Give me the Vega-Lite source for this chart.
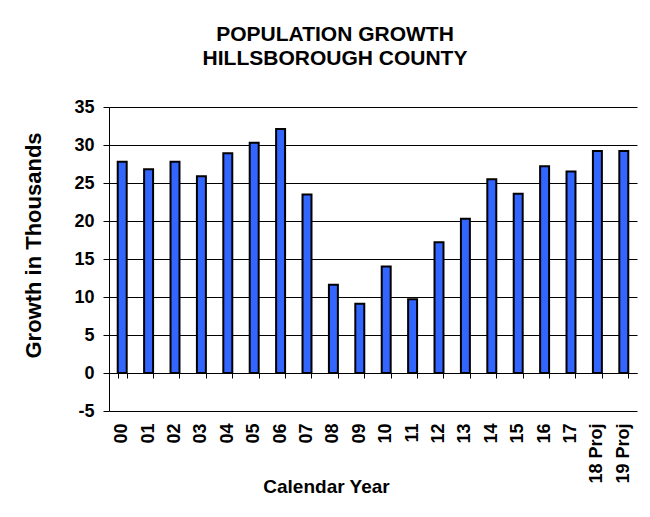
{
  "$schema": "https://vega.github.io/schema/vega-lite/v6.json",
  "width": 528,
  "height": 304,
  "padding": {"left": 22, "top": 24, "right": 13, "bottom": 5},
  "background": "white",
  "title": {
    "text": ["POPULATION GROWTH", "HILLSBOROUGH COUNTY"],
    "font": "Liberation Sans",
    "fontSize": 21,
    "fontWeight": "bold",
    "color": "black",
    "anchor": "middle",
    "lineHeight": 24,
    "offset": 29,
    "dx": -38
  },
  "data": {
    "values": [
      {"year": "00", "growth": 27.8},
      {"year": "01", "growth": 26.8},
      {"year": "02", "growth": 27.8},
      {"year": "03", "growth": 25.9},
      {"year": "04", "growth": 28.9},
      {"year": "05", "growth": 30.3},
      {"year": "06", "growth": 32.1},
      {"year": "07", "growth": 23.5},
      {"year": "08", "growth": 11.6},
      {"year": "09", "growth": 9.1},
      {"year": "10", "growth": 14.0},
      {"year": "11", "growth": 9.7},
      {"year": "12", "growth": 17.2},
      {"year": "13", "growth": 20.3},
      {"year": "14", "growth": 25.5},
      {"year": "15", "growth": 23.6},
      {"year": "16", "growth": 27.2},
      {"year": "17", "growth": 26.5},
      {"year": "18 Proj", "growth": 29.2},
      {"year": "19 Proj", "growth": 29.2}
    ]
  },
  "config": {
    "view": {"stroke": null},
    "axis": {
      "labelFont": "Liberation Sans",
      "titleFont": "Liberation Sans",
      "labelFontWeight": "bold",
      "titleFontWeight": "bold",
      "labelColor": "black",
      "titleColor": "black"
    }
  },
  "resolve": {"axis": {"x": "independent"}},
  "layer": [
    {
      "mark": {"type": "bar", "color": "#3366FF", "stroke": "black", "strokeWidth": 2},
      "encoding": {
        "x": {
          "field": "year",
          "type": "nominal",
          "sort": null,
          "scale": {"paddingInner": 0.66, "paddingOuter": 0.33},
          "title": "Calendar Year",
          "axis": {
            "labelAngle": -90,
            "labelFontSize": 18,
            "labelPadding": 12,
            "ticks": false,
            "domain": false,
            "grid": false,
            "titleFontSize": 19,
            "titleBaseline": "middle",
            "titleX": 217,
            "titleY": 75
          }
        },
        "y": {
          "field": "growth",
          "type": "quantitative",
          "scale": {"domain": [-5, 35], "nice": false, "zero": false},
          "title": "Growth in Thousands",
          "axis": {
            "values": [-5, 0, 5, 10, 15, 20, 25, 30, 35],
            "tickCount": 20,
            "labelExpr": "'' + datum.value",
            "labelOverlap": false,
            "labelFontSize": 18,
            "labelPadding": 9,
            "tickSize": 6,
            "tickColor": "black",
            "domainColor": "black",
            "domainWidth": 1,
            "grid": true,
            "gridColor": "black",
            "gridWidth": 1,
            "gridOpacity": 1,
            "titleFontSize": 22,
            "titlePadding": 28,
            "titleY": 138
          }
        }
      }
    },
    {
      "mark": {"type": "point", "opacity": 0},
      "encoding": {
        "x": {
          "field": "year",
          "type": "nominal",
          "sort": null,
          "axis": {
            "orient": "bottom",
            "offset": -38,
            "labels": false,
            "ticks": true,
            "tickBand": "extent",
            "tickSize": 5,
            "tickColor": "black",
            "domain": true,
            "domainColor": "black",
            "grid": false,
            "title": null
          }
        }
      }
    }
  ]
}
